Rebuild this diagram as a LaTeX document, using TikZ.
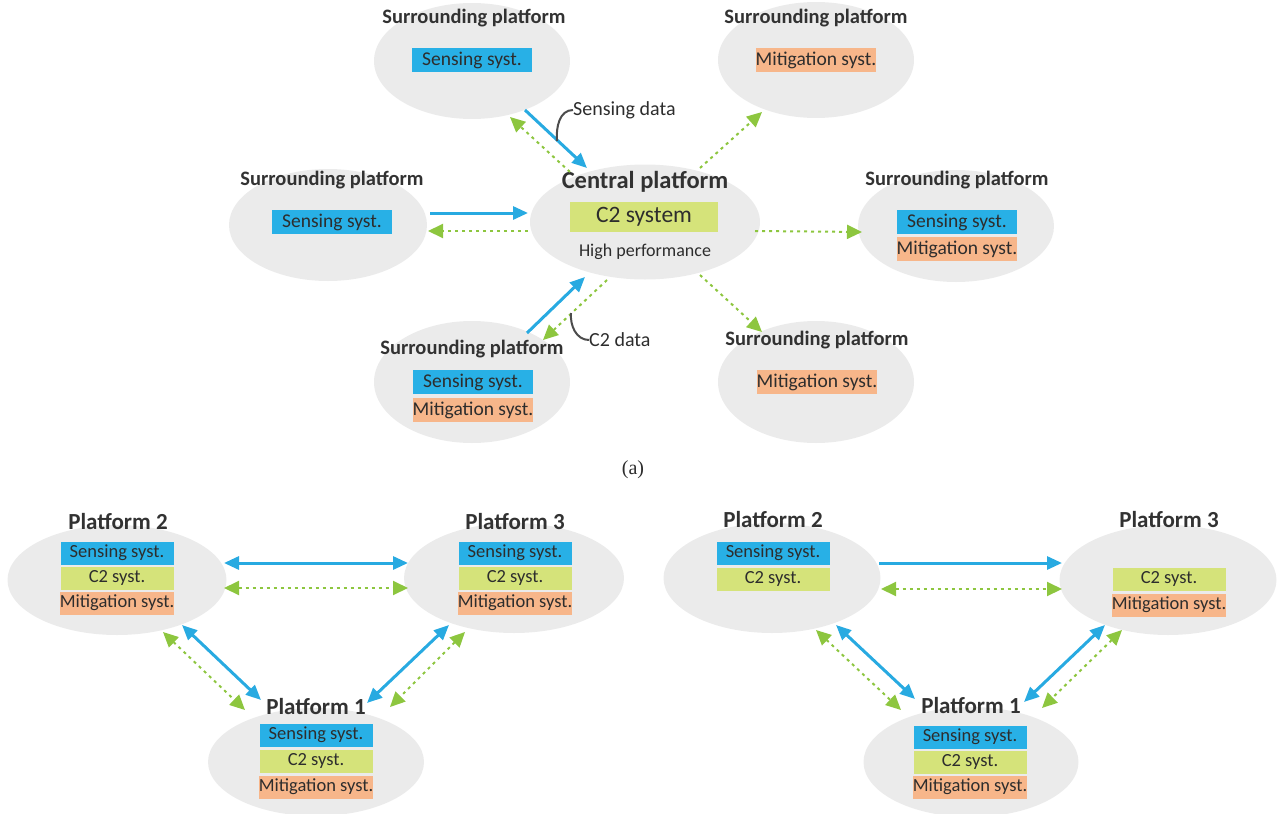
\documentclass[tikz,border=0pt]{standalone}
\usepackage{fontspec}
\setmainfont{Carlito}
\newfontfamily\serifcap{Liberation Serif}
\usetikzlibrary{shapes.geometric,arrows.meta}
\definecolor{sensblue}{RGB}{40,176,230}
\definecolor{ctwogreen}{RGB}{213,227,122}
\definecolor{mitorange}{RGB}{247,182,138}
\definecolor{arrblue}{RGB}{40,170,225}
\definecolor{arrgreen}{RGB}{141,198,63}
\definecolor{ellgray}{RGB}{235,235,235}
\definecolor{ttlgray}{RGB}{50,50,50}
\definecolor{txtdark}{RGB}{45,45,45}
\tikzset{
  plat/.style={ellipse, draw=none, fill=ellgray, inner sep=0pt},
  ttl/.style={font=\bfseries\fontsize{20.5}{23}\selectfont, text=ttlgray, inner sep=0pt},
  bigttl/.style={font=\bfseries\fontsize{24.5}{27}\selectfont, text=ttlgray, inner sep=0pt},
  bttl/.style={font=\bfseries\fontsize{23}{26}\selectfont, text=ttlgray, inner sep=0pt},
  abox/.style={minimum width=120pt, minimum height=24pt, inner sep=0pt,
    font=\fontsize{19.5}{21}\selectfont, text=txtdark},
  bbox/.style={minimum width=113pt, minimum height=23pt, inner sep=0pt,
    font=\fontsize{18.5}{20}\selectfont, text=txtdark},
  sens/.style={fill=sensblue},
  ctwo/.style={fill=ctwogreen},
  mitig/.style={fill=mitorange},
  blin/.style={draw=arrblue, line width=3pt, -{Triangle[length=15pt,width=13pt]}},
  blinb/.style={draw=arrblue, line width=3pt, {Triangle[length=15pt,width=13pt]}-{Triangle[length=15pt,width=13pt]}},
  glin/.style={draw=arrgreen, line width=2pt, dash pattern=on 3pt off 4pt, -{Triangle[length=15pt,width=14pt]}},
  glinb/.style={draw=arrgreen, line width=2pt, dash pattern=on 3pt off 4pt, {Triangle[length=15pt,width=14pt]}-{Triangle[length=15pt,width=14pt]}},
  lbl/.style={font=\fontsize{20}{22}\selectfont, text=txtdark, inner sep=0pt, anchor=west},
  callout/.style={draw=black!70, line width=2pt}
}
\begin{document}
\begin{tikzpicture}[x=1pt,y=-1pt]
\useasboundingbox (0,0) rectangle (1280,814);
% ---------- (a) ----------
\node[plat, minimum width=196pt, minimum height=116pt] (tl) at (472,61) {};
\node[plat, minimum width=196pt, minimum height=116pt] (tr) at (816,60) {};
\node[plat, minimum width=198pt, minimum height=112pt] (l) at (328,225) {};
\node[plat, minimum width=230pt, minimum height=115pt] (c) at (645,222) {};
\node[plat, minimum width=196pt, minimum height=112pt] (r) at (956,226) {};
\node[plat, minimum width=196pt, minimum height=122pt] (bl) at (472,382) {};
\node[plat, minimum width=196pt, minimum height=122pt] (br) at (816,382) {};

\node[ttl] (tlt) at (474,18) {Surrounding platform};
\node[abox, sens] (tls) at (472,60) {Sensing syst.};

\node[ttl] (trt) at (816,18) {Surrounding platform};
\node[abox, mitig] (trm) at (816,60) {Mitigation syst.};

\node[ttl] (lt) at (332,180) {Surrounding platform};
\node[abox, sens] (ls) at (332,222) {Sensing syst.};

\node[bigttl] (ct) at (645,182) {Central platform};
\node[minimum width=148pt, minimum height=30pt, inner sep=0pt, fill=ctwogreen,
  font=\fontsize{23.5}{25}\selectfont, text=txtdark] (cs) at (644,217) {C2 system};
\node[font=\fontsize{18}{20}\selectfont, text=txtdark, inner sep=0pt] (chp) at (645,252) {High performance};

\node[ttl] (rt) at (957,180) {Surrounding platform};
\node[abox, sens] (rs) at (957,222) {Sensing syst.};
\node[abox, mitig] (rm) at (957,249) {Mitigation syst.};

\node[ttl] (blt) at (472,349) {Surrounding platform};
\node[abox, sens] (bls) at (473,382) {Sensing syst.};
\node[abox, mitig] (blm) at (473,410) {Mitigation syst.};

\node[ttl] (brt) at (817,340) {Surrounding platform};
\node[abox, mitig] (brm) at (817,382) {Mitigation syst.};

% arrows (a)
\draw[blin] ([shift={(53,49)}]tl.center) -- ([shift={(-58,-54)}]c.center);
\draw[glin] ([shift={(-75,-50)}]c.center) -- ([shift={(38,56)}]tl.center);
\draw[glin] ([shift={(55,-54)}]c.center) -- ([shift={(-54,52)}]tr.center);
\draw[blin] ([shift={(102,-12)}]l.center) -- ([shift={(-117,-9)}]c.center);
\draw[glin] ([shift={(-117,9)}]c.center) -- ([shift={(100,6)}]l.center);
\draw[glin] ([shift={(110,9)}]c.center) -- ([shift={(-94,6)}]r.center);
\draw[blin] ([shift={(55,-49)}]bl.center) -- ([shift={(-60,55)}]c.center);
\draw[glin] ([shift={(-38,58)}]c.center) -- ([shift={(71,-42)}]bl.center);
\draw[glin] ([shift={(55,53)}]c.center) -- ([shift={(-54,-50)}]br.center);

% callouts
\node[lbl] (sd) at (573,110) {Sensing data};
\node[lbl] (cd) at (589,340) {C2 data};
\draw[callout] ([shift={(-16,31)}]sd.west) to[out=95,in=180] (sd.west);
\draw[callout] ([shift={(-18,-27)}]cd.west) to[out=-95,in=180] (cd.west);

\node[font=\serifcap\fontsize{20}{22}\selectfont, text=txtdark, inner sep=0pt] (cap) at (633,470) {(a)};

% ---------- bottom left ----------
\node[plat, minimum width=219pt, minimum height=110pt] (p2a) at (117,580) {};
\node[plat, minimum width=220pt, minimum height=110pt] (p3a) at (514,578) {};
\node[plat, minimum width=216pt, minimum height=108pt] (p1a) at (316,762) {};

\node[bttl] (p2at) at (118,522) {Platform 2};
\node[bbox, sens] (p2as) at (117,553) {Sensing syst.};
\node[bbox, ctwo] (p2ac) at (117,578) {C2 syst.};
\node[bbox, mitig] (p2am) at (117,603) {Mitigation syst.};

\node[bttl] (p3at) at (515,522) {Platform 3};
\node[bbox, sens] (p3as) at (515,553) {Sensing syst.};
\node[bbox, ctwo] (p3ac) at (515,578) {C2 syst.};
\node[bbox, mitig] (p3am) at (515,603) {Mitigation syst.};

\node[bttl] (p1at) at (316,707) {Platform 1};
\node[bbox, sens] (p1as) at (316,735) {Sensing syst.};
\node[bbox, ctwo] (p1ac) at (316,761) {C2 syst.};
\node[bbox, mitig] (p1am) at (316,787) {Mitigation syst.};

\draw[blinb] ([shift={(107,-17)}]p2a.center) -- ([shift={(-106,-15)}]p3a.center);
\draw[glinb] ([shift={(107,8)}]p2a.center) -- ([shift={(-106,10)}]p3a.center);
\draw[blinb] ([shift={(65,45)}]p2a.center) -- ([shift={(-55,-62)}]p1a.center);
\draw[glinb] ([shift={(46,52)}]p2a.center) -- ([shift={(-71,-52)}]p1a.center);
\draw[blinb] ([shift={(-65,47)}]p3a.center) -- ([shift={(51,-59)}]p1a.center);
\draw[glinb] ([shift={(-49,54)}]p3a.center) -- ([shift={(74,-55)}]p1a.center);

% ---------- bottom right ----------
\node[plat, minimum width=217pt, minimum height=110pt] (p2b) at (772,578) {};
\node[plat, minimum width=217pt, minimum height=110pt] (p3b) at (1168,580) {};
\node[plat, minimum width=215pt, minimum height=110pt] (p1b) at (971,762) {};

\node[bttl] (p2bt) at (773,520) {Platform 2};
\node[bbox, sens] (p2bs) at (773,553) {Sensing syst.};
\node[bbox, ctwo] (p2bc) at (773,579) {C2 syst.};

\node[bttl] (p3bt) at (1169,520) {Platform 3};
\node[bbox, ctwo] (p3bc) at (1169,579) {C2 syst.};
\node[bbox, mitig] (p3bm) at (1169,605) {Mitigation syst.};

\node[bttl] (p1bt) at (971,706) {Platform 1};
\node[bbox, sens] (p1bs) at (970,737) {Sensing syst.};
\node[bbox, ctwo] (p1bc) at (970,762) {C2 syst.};
\node[bbox, mitig] (p1bm) at (970,787) {Mitigation syst.};

\draw[blin] ([shift={(107,-15)}]p2b.center) -- ([shift={(-106,-17)}]p3b.center);
\draw[glinb] ([shift={(109,11)}]p2b.center) -- ([shift={(-106,9)}]p3b.center);
\draw[blinb] ([shift={(64,47)}]p2b.center) -- ([shift={(-56,-63)}]p1b.center);
\draw[glinb] ([shift={(44,52)}]p2b.center) -- ([shift={(-70,-52)}]p1b.center);
\draw[blinb] ([shift={(-63,45)}]p3b.center) -- ([shift={(53,-60)}]p1b.center);
\draw[glinb] ([shift={(-46,50)}]p3b.center) -- ([shift={(71,-54)}]p1b.center);
\end{tikzpicture}
\end{document}
